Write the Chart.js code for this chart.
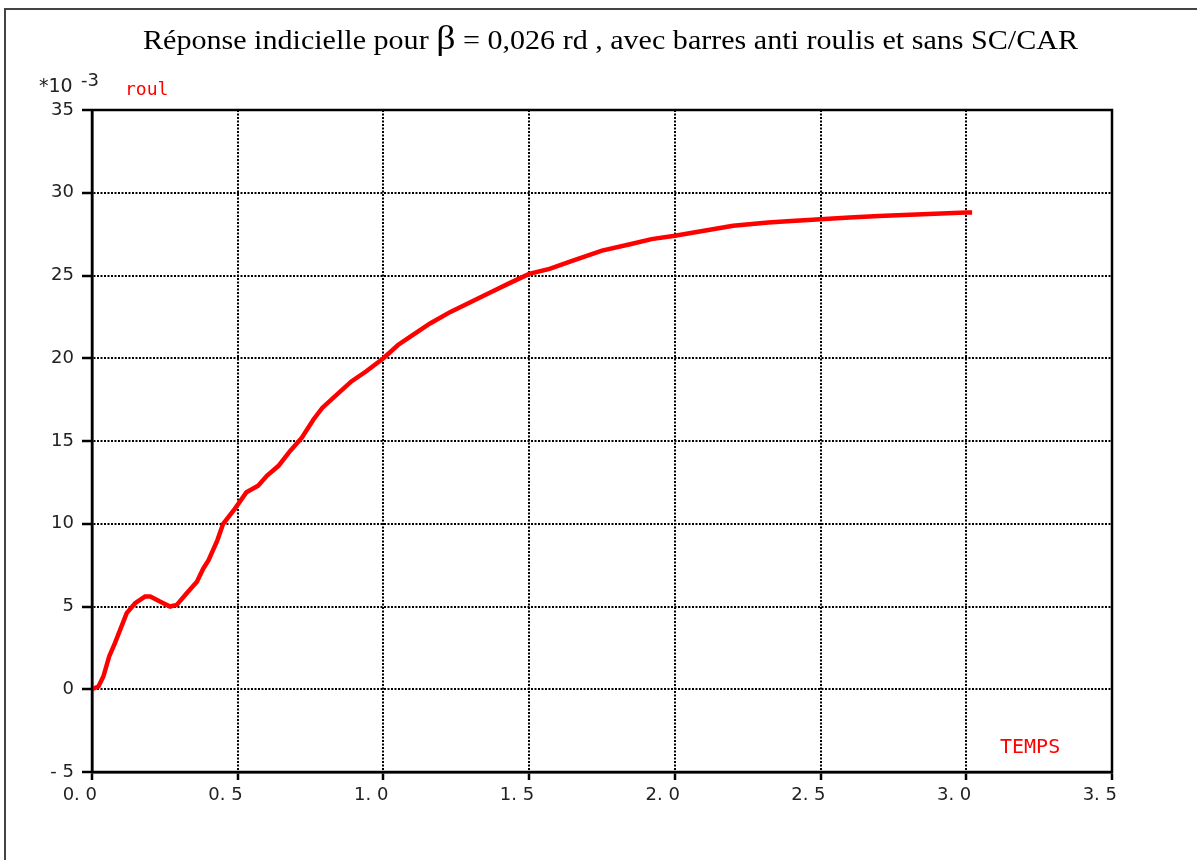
<!DOCTYPE html>
<html>
<head>
<meta charset="utf-8">
<script src="https://cdn.jsdelivr.net/npm/chart.js@4/dist/chart.umd.min.js"></script>
<style>
  html, body { margin: 0; padding: 0; background: #fff; }
  #wrap { width: 1197px; height: 860px; position: relative; }
</style>
</head>
<body>
<div id="wrap"><canvas id="chart" width="1197" height="860"></canvas></div>
<script>
// Temps (s) et roulis (x 10^-3 rd)
const temps = [0, 0.022, 0.039, 0.059, 0.079, 0.119, 0.148, 0.182, 0.2, 0.233, 0.268, 0.291,
  0.325, 0.36, 0.382, 0.4, 0.43, 0.45, 0.49, 0.53, 0.57, 0.6, 0.64, 0.68, 0.72, 0.76, 0.79,
  0.84, 0.89, 0.94, 1.0, 1.05, 1.1, 1.16, 1.23, 1.3, 1.37, 1.44, 1.5, 1.57, 1.65, 1.75, 1.85,
  1.92, 2.0, 2.1, 2.2, 2.32, 2.4, 2.5, 2.6, 2.7, 2.85, 3.0, 3.02]
const roul = [0, 0.17, 0.77, 1.98, 2.8, 4.6, 5.2, 5.6, 5.6, 5.3, 5.0, 5.1,
  5.8, 6.5, 7.3, 7.8, 9.0, 10.0, 10.9, 11.9, 12.3, 12.9, 13.5, 14.4, 15.2, 16.3, 17.0,
  17.8, 18.6, 19.2, 20.0, 20.8, 21.4, 22.1, 22.8, 23.4, 24.0, 24.6, 25.1, 25.4, 25.9, 26.5, 26.9,
  27.2, 27.4, 27.7, 28.0, 28.2, 28.3, 28.4, 28.5, 28.6, 28.7, 28.8, 28.8]

const xTicks = ["0. 0", "0. 5", "1. 0", "1. 5", "2. 0", "2. 5", "3. 0", "3. 5"]
const yTicks = { "-5": "- 5", "0": "0", "5": "5", "10": "10", "15": "15", "20": "20", "25": "25", "30": "30", "35": "35" }

// Textes, cadre et bordure du tracé
const decor = {
  id: "decor",
  afterDraw(chart) {
    const ctx = chart.ctx
    const a = chart.chartArea
    ctx.save()
    // cadre de la page
    ctx.strokeStyle = "#444"
    ctx.lineWidth = 2
    ctx.beginPath()
    ctx.moveTo(5, 860)
    ctx.lineTo(5, 9)
    ctx.lineTo(1197, 9)
    ctx.stroke()

    // bordure pleine du tracé
    ctx.strokeStyle = "#000"
    ctx.lineWidth = 2.5
    ctx.strokeRect(a.left, a.top, a.right - a.left, a.bottom - a.top)

    // titre, étiré pour occuper la même largeur que l'original
    ctx.fillStyle = "#000"
    ctx.textBaseline = "alphabetic"
    ctx.textAlign = "left"
    const serif = '"Liberation Serif", "Times New Roman", serif'
    const parts = [
      ["Réponse indicielle pour ", "27px " + serif],
      ["β", "34px " + serif],
      [" = 0,026", "27px " + serif],
      [" rd", "27px " + serif],
      [" , avec barres anti roulis et sans SC/CAR", "27px " + serif],
    ]
    let total = 0
    parts.forEach(([txt, font]) => {
      ctx.font = font
      total += ctx.measureText(txt).width
    })
    const sx = (1078 - 143) / total
    ctx.translate(143, 49)
    ctx.scale(sx, 1)
    let x = 0
    parts.forEach(([txt, font]) => {
      ctx.font = font
      ctx.fillText(txt, x, 0)
      x += ctx.measureText(txt).width
    })
    ctx.setTransform(1, 0, 0, 1, 0, 0)

    // unité de l'axe y
    ctx.font = '19px "DejaVu Sans"'
    ctx.fillStyle = "#222"
    ctx.fillText("*10", 39, 92)
    ctx.font = '18px "DejaVu Sans"'
    ctx.fillText("-3", 81, 86)

    ctx.font = '18px "DejaVu Sans Mono"'
    ctx.fillStyle = "#ff0000"
    ctx.fillText("roul", 125, 95)
    ctx.font = '20px "DejaVu Sans Mono"'
    ctx.fillText("TEMPS", 1000, 753)
    ctx.restore()
  },
}

new Chart(document.getElementById("chart"), {
  type: "line",
  data: {
    datasets: [
      {
        label: "roul",
        data: temps.map((t, i) => ({ x: t, y: roul[i] })),
        borderColor: "#ff0000",
        borderWidth: 4.5,
        pointRadius: 0,
        tension: 0,
        fill: false,
      },
    ],
  },
  options: {
    responsive: false,
    animation: false,
    layout: { padding: { left: 0, top: 110, right: 85, bottom: 58 } },
    plugins: { legend: { display: false }, tooltip: { enabled: false } },
    scales: {
      x: {
        type: "linear",
        min: 0,
        max: 3.5,
        afterFit: (s) => { s.height = 30 },
        afterBuildTicks: (s) => { s.ticks = xTicks.map((_, i) => ({ value: i * 0.5 })) },
        ticks: {
          autoSkip: false,
          maxRotation: 0,
          align: "end",
          labelOffset: 5,
          padding: 5,
          color: "#222",
          font: { family: "DejaVu Sans", size: 18 },
          callback: (v, i) => xTicks[i],
        },
        grid: {
          color: "#000",
          lineWidth: 2,
          drawTicks: true,
          tickLength: 8,
          tickColor: "#000",
          tickWidth: 2.5,
          tickBorderDash: [],
        },
        border: { display: true, color: "#000", width: 2.5, dash: [2, 1.5] },
      },
      y: {
        min: -5,
        max: 35,
        afterFit: (s) => { s.width = 92 },
        ticks: {
          stepSize: 5,
          padding: 8,
          color: "#222",
          font: { family: "DejaVu Sans", size: 18 },
          callback: (v) => yTicks[String(v)],
        },
        grid: {
          color: "#000",
          lineWidth: 2,
          drawTicks: true,
          tickLength: 10,
          tickColor: "#000",
          tickWidth: 2.5,
          tickBorderDash: [],
        },
        border: { display: true, color: "#000", width: 2.5, dash: [2, 1.5] },
      },
    },
  },
  plugins: [decor],
})
</script>
</body>
</html>
